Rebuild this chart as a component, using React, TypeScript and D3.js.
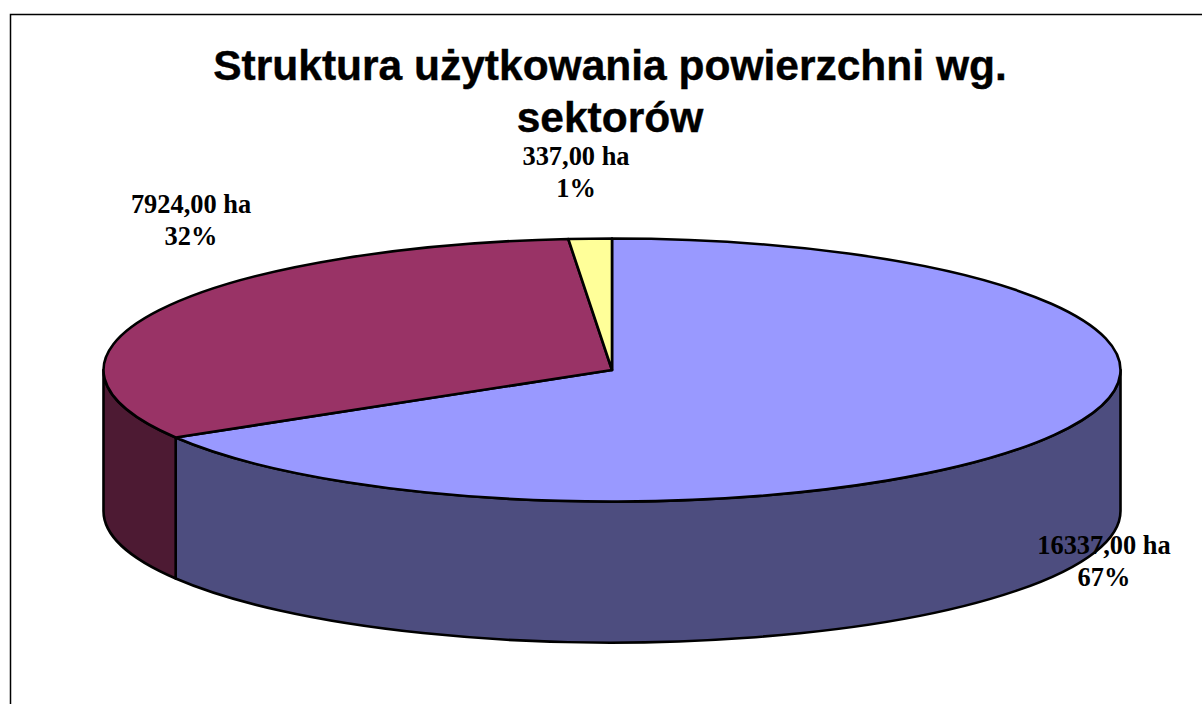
import React from "react";
import * as d3 from "d3";

const categories = ["A", "B", "C"];
const values = [16337, 7924, 337];
const valueLabels = ["16337,00 ha", "7924,00 ha", "337,00 ha"];
const percentLabels = ["67%", "32%", "1%"];
const topColors = ["#9999ff", "#993366", "#ffff99"];
const sideColors = ["#4d4d7f", "#4d1a33", "#80804d"];
const labelPositions = [
  [1104, 554],
  [191, 213],
  [576, 165],
];
const titleLines = ["Struktura użytkowania powierzchni wg.", "sektorów"];

const W = 1202, H = 704;
const cx = 612, cy = 370, rx = 508.5, ry = 131.5, depth = 141;

const pt = (a: number, dy = 0): [number, number] => [
  cx + rx * Math.sin(a),
  cy - ry * Math.cos(a) + dy,
];

function topPath(a0: number, a1: number) {
  const [x0, y0] = pt(a0);
  const [x1, y1] = pt(a1);
  const large = a1 - a0 > Math.PI ? 1 : 0;
  return `M${cx},${cy}L${x0},${y0}A${rx},${ry} 0 ${large} 1 ${x1},${y1}Z`;
}

function sidePath(a0: number, a1: number) {
  const s = Math.max(a0, Math.PI / 2);
  const e = Math.min(a1, (3 * Math.PI) / 2);
  if (e <= s) return null;
  const [x0, y0] = pt(s);
  const [x1, y1] = pt(e);
  const [x2, y2] = pt(e, depth);
  const [x3, y3] = pt(s, depth);
  return `M${x0},${y0}A${rx},${ry} 0 0 1 ${x1},${y1}L${x2},${y2}A${rx},${ry} 0 0 0 ${x3},${y3}Z`;
}

export default function App() {
  const arcs = d3
    .pie<number>()
    .sort(null)
    .startAngle(0)
    .endAngle(2 * Math.PI)(values);
  return (
    <svg
      width={W}
      height={H}
      viewBox={`0 0 ${W} ${H}`}
      style={{ position: "absolute", left: 0, top: 0, background: "#fff" }}
    >
      <path d={`M10.5,${H + 5}V14.5H${W + 5}`} fill="none" stroke="#000" strokeWidth={1.5} />
      {arcs.map((d, i) => {
        const p = sidePath(d.startAngle, d.endAngle);
        return p ? (
          <path key={categories[i]} d={p} fill={sideColors[i]} stroke="#000" strokeWidth={2.6} strokeLinejoin="round" />
        ) : null;
      })}
      {arcs.map((d, i) => (
        <path
          key={categories[i]}
          d={topPath(d.startAngle, d.endAngle)}
          fill={topColors[i]}
          stroke="#000"
          strokeWidth={2.6}
          strokeLinejoin="round"
        />
      ))}
      {titleLines.map((t, i) => (
        <text
          key={t}
          x={610}
          y={80 + i * 52}
          textAnchor="middle"
          fontFamily="Liberation Sans"
          fontWeight="bold"
          fontSize={42.5}
          fill="#000"
          stroke="#000"
          strokeWidth={0.4}
        >
          {t}
        </text>
      ))}
      {labelPositions.map(([x, y], i) => (
        <text
          key={categories[i]}
          textAnchor="middle"
          fontFamily="Liberation Serif"
          fontWeight="bold"
          fontSize={26.4}
          fill="#000"
        >
          <tspan x={x} y={y}>{valueLabels[i]}</tspan>
          <tspan x={x} y={y + 32}>{percentLabels[i]}</tspan>
        </text>
      ))}
    </svg>
  );
}
